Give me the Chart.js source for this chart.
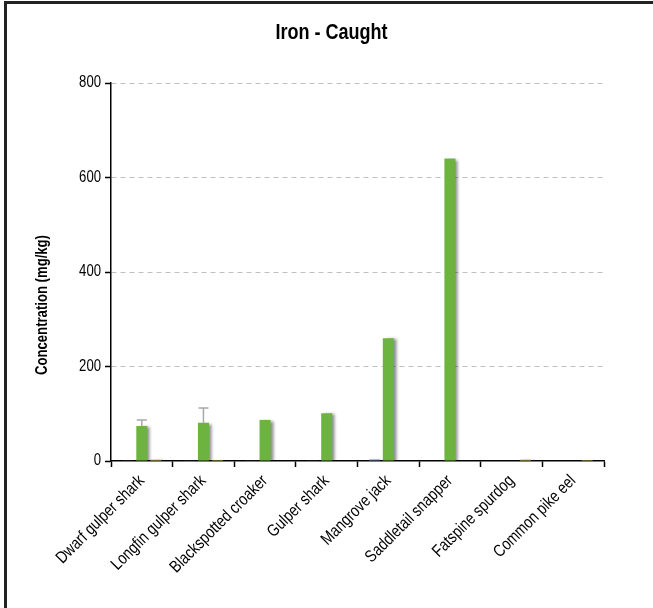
<!DOCTYPE html>
<html>
<head>
<meta charset="utf-8">
<script src="https://cdn.jsdelivr.net/npm/chart.js@4/dist/chart.umd.min.js"></script>
<style>
  html, body { margin: 0; padding: 0; background: #fff; }
  #wrap { position: relative; width: 653px; height: 608px; }
  #frame { position: absolute; left: 4px; top: 1px; right: -10px; bottom: -10px;
           border-left: 3px solid #222; border-top: 3px solid #222; pointer-events: none; }
  canvas { position: absolute; left: 0; top: 0; }
</style>
</head>
<body>
<div id="wrap">
  <canvas id="c" width="653" height="608"></canvas>
  <div id="frame"></div>
</div>
<script>
// ---- data ----
const categories = ["Dwarf gulper shark", "Longfin gulper shark", "Blackspotted croaker", "Gulper shark",
                    "Mangrove jack", "Saddletail snapper", "Fatspine spurdog", "Common pike eel"];
const seriesA = [0.8, 0.8, 0.8, 0.8, 3, 1, 0, 0];          // left (small) series
const seriesB = [74, 81, 87, 101, 260, 640, 0, 0];           // main green series
const seriesBErr = [13, 31, 0, 0, 0, 0, 0, 0];               // upper error
const seriesC = [3, 2, 0, 0, 0, 1, 3, 2];                    // right (small) series
const yTicks = [0, 200, 400, 600, 800];
const yTitle = 'Concentration (mg/kg)';

const FONT = "'Liberation Sans', Arial, sans-serif";
const NARROW = 0.82; // emulate a narrow face

const narrowTextPlugin = {
  id: 'narrowText',
  beforeInit(chart) {
    const ctx = chart.ctx;
    if (ctx.__narrow) return;
    const orig = ctx.fillText;
    ctx.fillText = function (t, x, y, mw) {
      this.save();
      this.translate(x, y);
      this.scale(NARROW, 1);
      if (mw !== undefined) orig.call(this, t, 0, 0, mw / NARROW); else orig.call(this, t, 0, 0);
      this.restore();
    };
    ctx.__narrow = true;
  }
};

const yTitlePlugin = {
  id: 'yTitle',
  afterDraw(chart) {
    const ctx = chart.ctx;
    ctx.save();
    ctx.translate(43, 305);
    ctx.rotate(-Math.PI / 2);
    ctx.font = 'bold 16px ' + FONT;
    ctx.fillStyle = '#000';
    ctx.textAlign = 'center';
    ctx.textBaseline = 'middle';
    ctx.fillText(yTitle, 0, 0);
    ctx.restore();
  }
};

const shadowPlugin = {
  id: 'shadow',
  beforeDatasetsDraw(chart) {
    const ctx = chart.ctx;
    ctx.save();
    ctx.shadowColor = 'rgba(0,0,0,0.45)';
    ctx.shadowOffsetX = 3;
    ctx.shadowOffsetY = 1;
    ctx.shadowBlur = 3;
  },
  afterDatasetsDraw(chart) {
    chart.ctx.restore();
    // error bars on the green series
    const ctx = chart.ctx;
    const meta = chart.getDatasetMeta(1);
    const y = chart.scales.y;
    ctx.save();
    ctx.strokeStyle = '#a8a8a8';
    ctx.lineWidth = 1.5;
    meta.data.forEach((bar, i) => {
      const e = seriesBErr[i];
      if (!e) return;
      const x = bar.x;
      const yTop = y.getPixelForValue(seriesB[i] + e);
      const yBase = y.getPixelForValue(seriesB[i]);
      ctx.beginPath();
      ctx.moveTo(x, yBase);
      ctx.lineTo(x, yTop);
      ctx.moveTo(x - 5, yTop);
      ctx.lineTo(x + 5, yTop);
      ctx.stroke();
    });
    ctx.restore();
  }
};

new Chart(document.getElementById('c'), {
  type: 'bar',
  data: {
    labels: categories,
    datasets: [
      { data: seriesA, backgroundColor: '#5a78a8', barPercentage: 0.79, categoryPercentage: 0.68 },
      { data: seriesB, backgroundColor: '#6db33f', barPercentage: 0.79, categoryPercentage: 0.68 },
      { data: seriesC, backgroundColor: '#d8bf55', barPercentage: 0.79, categoryPercentage: 0.68 }
    ]
  },
  options: {
    responsive: false,
    animation: false,
    layout: { padding: { left: 10, right: 0, top: 0, bottom: 0 } },
    plugins: {
      legend: { display: false },
      tooltip: { enabled: false },
      title: {
        display: true,
        text: 'Iron - Caught',
        color: '#000',
        font: { family: FONT, size: 22, weight: 'bold', lineHeight: 1.2 },
        padding: { top: 20, bottom: 36.6 }
      }
    },
    scales: {
      x: {
        offset: true,
        grid: { display: true, drawOnChartArea: false, offset: true, tickLength: 6, tickColor: '#000', tickWidth: 1.5 },
        border: { display: true, color: '#000', width: 1.5 },
        ticks: { color: '#000', font: { family: FONT, size: 17 }, minRotation: 45, maxRotation: 45, autoSkip: false, padding: 4 },
        afterFit(scale) { scale.height = 147; }
      },
      y: {
        min: 0, max: 800,
        afterBuildTicks(scale) { scale.ticks = yTicks.map(v => ({ value: v })); },
        grid: {
          color: (c) => (c.tick && c.tick.value === 0) ? 'rgba(0,0,0,0)' : '#c0c0c0',
          lineWidth: 1,
          tickLength: 6, tickColor: '#000', tickWidth: 1.5, tickBorderDash: [1, 0]
        },
        border: { display: true, color: '#000', width: 1.5, dash: [5, 4] },
        ticks: { color: '#000', font: { family: FONT, size: 16 }, padding: 4 },
        afterFit(scale) { scale.width = 101; }
      },
      y2: {
        position: 'right',
        min: 0, max: 800,
        grid: { display: false },
        border: { display: false },
        ticks: { display: false },
        afterFit(scale) { scale.width = 49; }
      }
    }
  },
  plugins: [narrowTextPlugin, shadowPlugin, yTitlePlugin]
});
</script>
</body>
</html>
